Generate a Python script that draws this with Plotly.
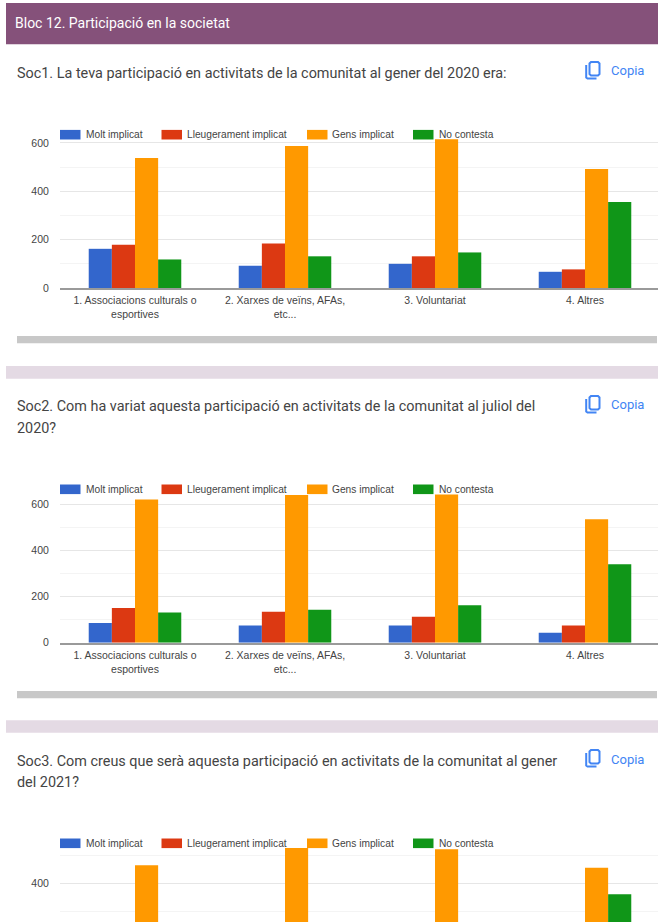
import plotly.graph_objects as go

WIDTH, HEIGHT = 658, 922

CATEGORIES = ["1. Associacions culturals o<br>esportives", "2. Xarxes de veïns, AFAs,<br>etc...",
              "3. Voluntariat", "4. Altres"]
SERIES = ["Molt implicat", "Lleugerament implicat", "Gens implicat", "No contesta"]
COLORS = ["#3366cc", "#dc3912", "#ff9900", "#109618"]

SOC1_MOLT = [162, 92, 100, 67]
SOC1_LLEU = [179, 184, 131, 77]
SOC1_GENS = [537, 587, 615, 492]
SOC1_NC = [118, 131, 147, 356]

SOC2_MOLT = [85, 74, 74, 43]
SOC2_LLEU = [150, 134, 112, 74]
SOC2_GENS = [620, 639, 642, 534]
SOC2_NC = [131, 143, 162, 340]

# Only the tall bars of the third chart rise above the bottom of the page.
SOC3_MOLT = [None, None, None, None]
SOC3_LLEU = [None, None, None, None]
SOC3_GENS = [464, 525, 520, 455]
SOC3_NC = [None, None, None, 361]

HEADER = "Bloc 12. Participació en la societat"
COPY_LABEL = "Copia"
QUESTIONS = [
    ["Soc1. La teva participació en activitats de la comunitat al gener del 2020 era:"],
    ["Soc2. Com ha variat aquesta participació en activitats de la comunitat al juliol del", "2020?"],
    ["Soc3. Com creus que serà aquesta participació en activitats de la comunitat al gener", "del 2021?"],
]


def fx(x):
    return x / WIDTH


def fy(y):
    return 1 - y / HEIGHT


fig = go.Figure()
shapes, annotations = [], []


def band(x0, y0, x1, y1, color):
    shapes.append(dict(type="rect", xref="paper", yref="paper", x0=fx(x0), x1=fx(x1),
                       y0=fy(y1), y1=fy(y0), fillcolor=color, line_width=0, layer="below"))


def label(x, y, text, size, color, font="Roboto", anchor="left"):
    annotations.append(dict(xref="paper", yref="paper", x=fx(x - 1), y=fy(y), text=text, showarrow=False,
                            xanchor=anchor, yanchor="middle", borderpad=0,
                            font=dict(family=font, size=size, color=color)))


def copy_button(cy):
    # Two overlapping sheets: a rounded front page and the L-shaped page behind it.
    top = cy - 8.5
    front = (f"M {fx(591)} {fy(top)} L {fx(598)} {fy(top)} L {fx(599.5)} {fy(top + 1.5)} "
             f"L {fx(599.5)} {fy(top + 12)} L {fx(598)} {fy(top + 13.5)} L {fx(591)} {fy(top + 13.5)} "
             f"L {fx(589.5)} {fy(top + 12)} L {fx(589.5)} {fy(top + 1.5)} Z")
    back = (f"M {fx(586.2)} {fy(top + 3)} L {fx(586.2)} {fy(top + 15.5)} "
            f"L {fx(587.5)} {fy(top + 16.5)} L {fx(596.5)} {fy(top + 16.5)}")
    for path in (front, back):
        shapes.append(dict(type="path", xref="paper", yref="paper", path=path,
                           line=dict(color="#4285f4", width=2)))
    label(611, cy + 0.5, COPY_LABEL, 13, "#4285f4")


def legend_row(cy):
    for name, color, sx, tx in zip(SERIES, COLORS, (60, 161.5, 307, 413), (85.6, 187, 332, 439)):
        shapes.append(dict(type="rect", xref="paper", yref="paper", x0=fx(sx), x1=fx(sx + 20.5),
                           y0=fy(cy + 4.8), y1=fy(cy - 4.8), fillcolor=color, line_width=0))
        label(tx, cy, name, 10.2, "#444444", font="Liberation Sans")


def add_chart(n, values, top_px, bottom_px, y_range, show_categories):
    xname, yname = ("x", "y") if n == 1 else (f"x{n}", f"y{n}")
    for name, color, vals in zip(SERIES, COLORS, values):
        fig.add_trace(go.Bar(x=CATEGORIES, y=vals, name=name, marker=dict(color=color, line_width=0),
                             xaxis=xname, yaxis=yname, showlegend=False))
    xkey, ykey = ("xaxis", "yaxis") if n == 1 else (f"xaxis{n}", f"yaxis{n}")
    fig.layout[xkey] = dict(domain=[fx(60), 1], range=[-0.5, 3.4867], type="category", anchor=yname,
                            showgrid=False, zeroline=False, showline=show_categories,
                            linecolor="#9a9a9a", linewidth=1.5,
                            showticklabels=show_categories, ticks="outside" if show_categories else "",
                            ticklen=2, tickcolor="rgba(0,0,0,0)", automargin=False,
                            tickfont=dict(family="Liberation Sans", size=10.5, color="#444444"))
    fig.layout[ykey] = dict(domain=[fy(bottom_px), fy(top_px)], range=y_range, anchor=xname,
                            tick0=0, dtick=200, gridcolor="#e6e6e6", gridwidth=1, zeroline=False,
                            ticks="outside", ticklen=8, tickcolor="rgba(0,0,0,0)", automargin=False,
                            tickfont=dict(family="Liberation Sans", size=10.5, color="#444444"),
                            minor=dict(dtick=100, tick0=0, showgrid=True, gridcolor="#f4f4f4", gridwidth=1, ticks=""))


add_chart(1, [SOC1_MOLT, SOC1_LLEU, SOC1_GENS, SOC1_NC], 139, 288, [0, 616], True)
add_chart(2, [SOC2_MOLT, SOC2_LLEU, SOC2_GENS, SOC2_NC], 481, 642.7, [0, 700], True)
add_chart(3, [SOC3_MOLT, SOC3_LLEU, SOC3_GENS, SOC3_NC], 847, 922, [262.4, 528.4], False)

# Page furniture: header banner, section dividers and the horizontal scroll bars.
band(6, 3, 658, 44.3, "#85517a")
band(6, 366, 658, 378.7, "#e4dae4")
band(6, 720.3, 658, 732.7, "#e4dae4")
band(17, 336, 657, 343.3, "#c8c8c8")
band(17, 691, 657, 698.3, "#c8c8c8")

label(15, 23, HEADER, 14, "#ffffff")

for lines, ys in zip(QUESTIONS, ((73,), (407, 428), (761, 782))):
    for line, y in zip(lines, ys):
        label(17, y, line, 14.4, "#444444")

for cy in (70.5, 404.5, 758.5):
    copy_button(cy)

for cy in (134.7, 489.3, 843.3):
    legend_row(cy)

fig.update_layout(width=WIDTH, height=HEIGHT, autosize=False,
                  margin=dict(l=0, r=0, t=0, b=0, pad=0, autoexpand=False),
                  paper_bgcolor="#ffffff", plot_bgcolor="rgba(0,0,0,0)", barmode="group",
                  bargap=0.383, bargroupgap=0, shapes=shapes, annotations=annotations)

fig.write_html("out.html", config={"displayModeBar": False})
